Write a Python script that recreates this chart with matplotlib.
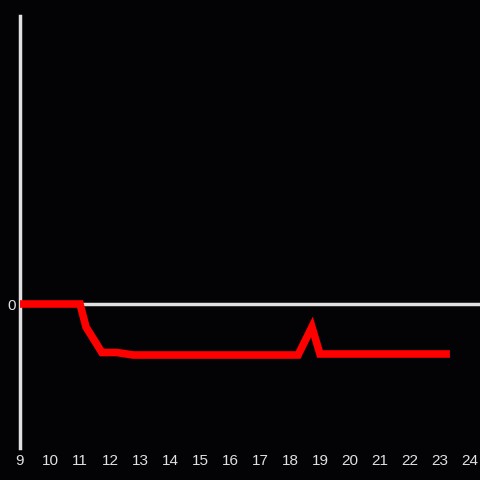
import matplotlib
matplotlib.use("Agg")
from matplotlib import pyplot as plt

plt.rcParams["font.family"] = ["Liberation Sans", "DejaVu Sans"]

hours = [9, 11, 11.2, 11.73, 12.23, 12.77, 18.27, 18.73, 19.0, 23.33]
values = [0, 0, -2.3, -4.85, -4.85, -5.1, -5.1, -2.3, -5.0, -5.0]
xticks = list(range(9, 25))

bg = "#030205"
fig = plt.figure(figsize=(4.8, 4.8), dpi=100, facecolor=bg)
ax = fig.add_axes([20 / 480, 32 / 480, 460 / 480, 432 / 480])
ax.set_facecolor(bg)

ax.axhline(0, color="#e0e0e0", lw=2.5, zorder=1)
ax.plot(hours, values, color="#ff0000", lw=5.5, solid_capstyle="butt",
        solid_joinstyle="miter", zorder=3, clip_on=False)

ax.set_xlim(9, 9 + 460 / 30)
ax.set_ylim(-14.4, 28.8)
ax.set_xticks(xticks)
ax.set_yticks([0])
ax.tick_params(axis="both", length=0, colors="#e0e0e0", labelsize=11)
ax.tick_params(axis="x", pad=4.5)
ax.tick_params(axis="y", pad=3)

for side in ["top", "right", "bottom"]:
    ax.spines[side].set_visible(False)
ax.spines["left"].set_color("#e0e0e0")
ax.spines["left"].set_linewidth(2.5)

fig.savefig("out.png", dpi=100, facecolor=bg)
